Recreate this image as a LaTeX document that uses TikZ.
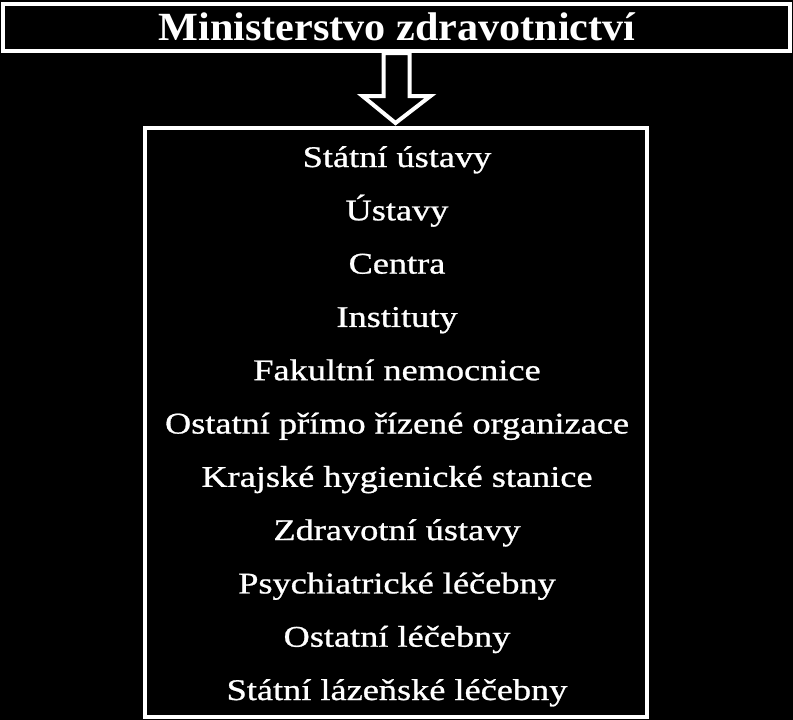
\documentclass[tikz,border=0pt]{standalone}
\usepackage{fontspec}
\setmainfont{Liberation Serif}
\newfontfamily\itemfont[FakeBold=0.8]{Liberation Serif}
\usetikzlibrary{calc}
\begin{document}
\begin{tikzpicture}[x=1pt,y=-1pt,
  frame/.style={draw=white,line width=4pt,fill=black,inner sep=0pt},
  item/.style={text=white,font=\itemfont\fontsize{30}{30}\selectfont,inner sep=0pt,anchor=base}]
\fill[black] (0,0) rectangle (793,720);
\useasboundingbox (0,0) rectangle (793,720);
\node[frame,minimum width=787pt,minimum height=47pt] (title) at (396.5,27.5) {};
\node[text=white,font=\bfseries\fontsize{40}{40}\selectfont,inner sep=0pt,anchor=base] (ttext) at (397,40.5) {\scalebox{1.055}[1]{Ministerstvo zdravotnictví}};
\node[frame,minimum width=502pt,minimum height=589pt] (box) at (395.5,422.5) {};
\draw[draw=white,line width=4pt,fill=black,line join=miter]
  ($(title.south)+(-13,0)$) -- ($(title.south)+(13,0)$) -- ($(title.south)+(13,43)$)
  -- ($(title.south)+(34,43)$) -- ($(box.north)+(0,-3)$) -- ($(title.south)+(-34,43)$)
  -- ($(title.south)+(-13,43)$) -- cycle;
\foreach \t [count=\i] in {Státní ústavy,Ústavy,Centra,Instituty,Fakultní nemocnice,Ostatní přímo řízené organizace,Krajské hygienické stanice,Zdravotní ústavy,Psychiatrické léčebny,Ostatní léčebny,Státní lázeňské léčebny}
  \node[item] (l\i) at (397,{157+53.3*(\i-1)+10}) {\scalebox{1.21}[1]{\t}};
\end{tikzpicture}
\end{document}
